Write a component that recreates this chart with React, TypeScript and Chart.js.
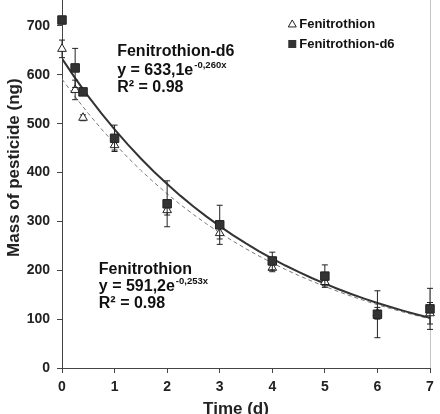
import React, { useEffect, useRef } from "react";
import { Chart, registerables } from "chart.js";

Chart.register(...registerables);

// ---- data ----
const timeDays = [0, 0.25, 0.4, 1, 2, 3, 4, 5, 6, 7];
const fenitrothion = [653, 569, 512, 456, 323, 276, 205, 176, 112, 112];
const fenitrothionErr = [18, 20, 6, 10, 10, 12, 8, 8, 12, 22];
const fenitrothionD6 = [712, 614, 565, 470, 336, 293, 219, 188, 110, 121];
const fenitrothionD6Err = [5, 40, 6, 27, 47, 40, 18, 23, 48, 42];
// trend lines as printed on the chart: y = a * e^(-k x)
const fitD6A = 633.1;
const fitD6K = 0.26;
const fitFA = 591.2;
const fitFK = 0.253;
const fitSampleX = [0, 0.25, 0.5, 0.75, 1, 1.25, 1.5, 1.75, 2, 2.25, 2.5, 2.75, 3, 3.25, 3.5, 3.75, 4, 4.25, 4.5, 4.75, 5, 5.25, 5.5, 5.75, 6, 6.25, 6.5, 6.75, 7];
const yTickMax = 700;
const yAxisMax = 753;
const seriesNames = ["Fenitrothion", "Fenitrothion-d6"];
const xTitle = "Time (d)";
const yTitle = "Mass of pesticide (ng)";

const FONT = "'Liberation Sans', Arial, sans-serif";

const errorBarPlugin = {
  id: "errorBars",
  beforeDatasetDraw(chart: any, args: any) {
    const ds: any = chart.data.datasets[args.index];
    if (!ds.errors) return;
    const meta = chart.getDatasetMeta(args.index);
    const ys = chart.scales.y;
    const ctx = chart.ctx;
    ctx.save();
    ctx.strokeStyle = "#222";
    ctx.lineWidth = 1;
    meta.data.forEach((pt: any, i: number) => {
      const v = ds.data[i].y;
      const e = ds.errors[i];
      if (!e) return;
      const top = ys.getPixelForValue(v + e);
      const bot = ys.getPixelForValue(v - e);
      const x = pt.x;
      ctx.beginPath();
      ctx.moveTo(x, top);
      ctx.lineTo(x, bot);
      ctx.moveTo(x - 3, top);
      ctx.lineTo(x + 3, top);
      ctx.moveTo(x - 3, bot);
      ctx.lineTo(x + 3, bot);
      ctx.stroke();
    });
    ctx.restore();
  },
};

const framePlugin = {
  id: "frame",
  beforeDatasetsDraw(chart: any) {
    const { ctx, chartArea } = chart;
    ctx.save();
    ctx.strokeStyle = "#c4c4c4";
    ctx.lineWidth = 1;
    ctx.beginPath();
    ctx.moveTo(chartArea.right + 0.5, 0);
    ctx.lineTo(chartArea.right + 0.5, chartArea.bottom);
    ctx.stroke();
    ctx.restore();
  },
};

function drawEq(ctx: any, x: number, y: number, main: string, sup: string) {
  ctx.font = `bold 16px ${FONT}`;
  ctx.fillText(main, x, y);
  const w = ctx.measureText(main).width;
  ctx.font = `bold 9.5px ${FONT}`;
  ctx.fillText(sup, x + w + 1, y - 5);
}

const annotationPlugin = {
  id: "annotations",
  afterDraw(chart: any) {
    const { ctx } = chart;
    const xs = chart.scales.x;
    const ys = chart.scales.y;
    ctx.save();
    ctx.fillStyle = "#111";
    ctx.textBaseline = "middle";
    ctx.textAlign = "left";
    // Fenitrothion-d6 label
    let x = xs.getPixelForValue(1.05);
    ctx.font = `bold 16px ${FONT}`;
    ctx.fillText("Fenitrothion-d6", x, ys.getPixelForValue(647));
    drawEq(ctx, x, ys.getPixelForValue(609), "y = 633,1e", "-0,260x");
    ctx.font = `bold 16px ${FONT}`;
    ctx.fillText("R² = 0.98", x, ys.getPixelForValue(574));
    // Fenitrothion label
    x = xs.getPixelForValue(0.7);
    ctx.font = `bold 16px ${FONT}`;
    ctx.fillText("Fenitrothion", x, ys.getPixelForValue(201));
    drawEq(ctx, x, ys.getPixelForValue(166), "y = 591,2e", "-0,253x");
    ctx.font = `bold 16px ${FONT}`;
    ctx.fillText("R² = 0.98", x, ys.getPixelForValue(131));

    // legend
    const lx = xs.getPixelForValue(4.38);
    const ly1 = ys.getPixelForValue(704);
    const ly2 = ys.getPixelForValue(663);
    ctx.font = `bold 13px ${FONT}`;
    ctx.fillText(seriesNames[0], lx + 7, ly1);
    ctx.fillText(seriesNames[1], lx + 7, ly2);
    ctx.strokeStyle = "#222";
    ctx.lineWidth = 1;
    ctx.beginPath();
    ctx.moveTo(lx, ly1 - 4);
    ctx.lineTo(lx + 4, ly1 + 3);
    ctx.lineTo(lx - 4, ly1 + 3);
    ctx.closePath();
    ctx.stroke();
    ctx.fillStyle = "#333";
    ctx.fillRect(lx - 4, ly2 - 4, 8, 8);

    // axis titles
    ctx.fillStyle = "#222";
    ctx.font = `bold 17px ${FONT}`;
    ctx.textAlign = "center";
    ctx.textBaseline = "alphabetic";
    ctx.fillText(xTitle, xs.getPixelForValue(3.5) - 10, chart.height);
    ctx.save();
    ctx.translate(19, ys.getPixelForValue(410));
    ctx.rotate(-Math.PI / 2);
    ctx.fillText(yTitle, 0, 0);
    ctx.restore();
    ctx.restore();
  },
};

const zeroPadding = () => ({ left: 0, top: 0, right: 0, bottom: 0 });

export default function App() {
  const ref = useRef<HTMLCanvasElement | null>(null);

  useEffect(() => {
    if (!ref.current) return;
    const pts = (ys: number[]) => timeDays.map((t, i) => ({ x: t, y: ys[i] }));
    const fit = (a: number, k: number) => fitSampleX.map((t) => ({ x: t, y: a * Math.exp(-k * t) }));

    const chart = new Chart(ref.current, {
      type: "scatter",
      data: {
        datasets: [
          {
            label: seriesNames[1],
            data: pts(fenitrothionD6),
            errors: fenitrothionD6Err,
            pointStyle: "rect",
            pointRadius: 6,
            backgroundColor: "#333",
            borderColor: "#222",
            borderWidth: 1,
            clip: false,
            order: 1,
          } as any,
          {
            label: seriesNames[0],
            data: pts(fenitrothion),
            errors: fenitrothionErr,
            pointStyle: "triangle",
            pointRadius: 5,
            backgroundColor: "#fff",
            borderColor: "#222",
            borderWidth: 1,
            clip: false,
            order: 2,
          } as any,
          {
            label: "fitD6",
            data: fit(fitD6A, fitD6K),
            showLine: true,
            borderColor: "#333",
            borderWidth: 2,
            pointRadius: 0,
            tension: 0,
            order: 3,
          } as any,
          {
            label: "fitF",
            data: fit(fitFA, fitFK),
            showLine: true,
            borderColor: "#777",
            borderWidth: 1,
            borderDash: [4, 3],
            pointRadius: 0,
            tension: 0,
            order: 4,
          } as any,
        ],
      },
      options: {
        responsive: false,
        animation: false,
        layout: { autoPadding: false, padding: { top: 0, right: 10, left: 0, bottom: 0 } },
        plugins: {
          legend: { display: false },
          tooltip: { enabled: false },
        },
        scales: {
          x: {
            type: "linear",
            min: 0,
            max: 7,
            ticks: {
              stepSize: 1,
              color: "#222",
              font: { family: FONT, size: 14, weight: "bold" },
              padding: 6,
            },
            grid: { drawOnChartArea: false, tickLength: 5, color: "#444" },
            border: { color: "#444" },
            afterFit: (s: any) => {
              s.height = 46;
              s.getPadding = zeroPadding;
            },
          },
          y: {
            type: "linear",
            min: 0,
            max: yAxisMax,
            ticks: {
              stepSize: 100,
              color: "#222",
              font: { family: FONT, size: 14, weight: "bold" },
              padding: 7,
            },
            afterBuildTicks: (s: any) => {
              s.ticks = s.ticks.filter((t: any) => t.value <= yTickMax);
            },
            grid: { drawOnChartArea: false, tickLength: 5, color: "#444" },
            border: { color: "#444" },
            afterFit: (s: any) => {
              s.width = 62;
              s.getPadding = zeroPadding;
            },
          },
        },
      } as any,
      plugins: [errorBarPlugin, framePlugin, annotationPlugin],
    });
    return () => chart.destroy();
  }, []);

  return (
    <div style={{ position: "absolute", left: 0, top: 0, width: 440, height: 414, background: "#fff" }}>
      <canvas ref={ref} width={440} height={414} style={{ display: "block" }} />
    </div>
  );
}
